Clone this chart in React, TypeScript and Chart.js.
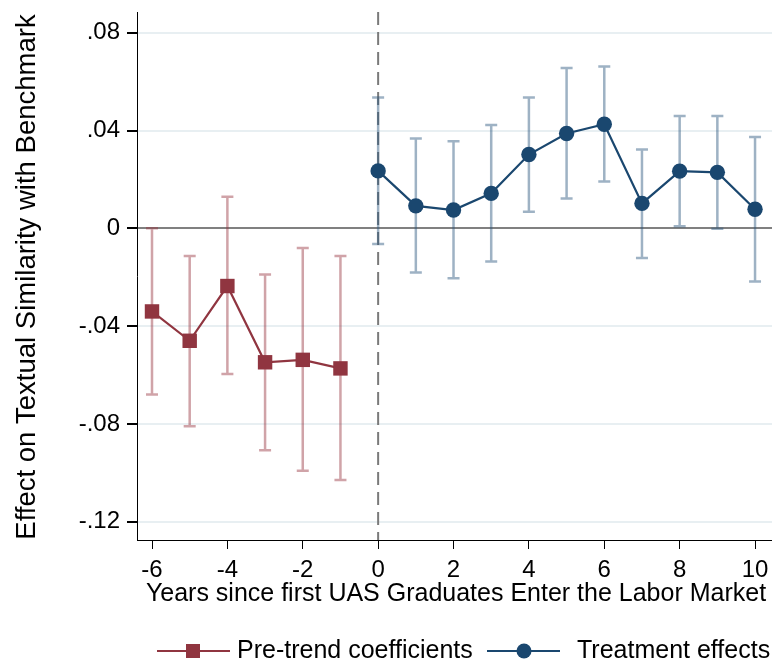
import React, { useEffect, useRef } from "react";
import { Chart, registerables } from "chart.js";

Chart.register(...registerables);

const preYears = [-6, -5, -4, -3, -2, -1];
const preCoef = [-0.034, -0.046, -0.0236, -0.0548, -0.0538, -0.0573];
const preLo = [-0.068, -0.081, -0.0596, -0.0908, -0.0992, -0.103];
const preHi = [0.0, -0.0113, 0.0129, -0.0189, -0.008, -0.0113];

const postYears = [0, 1, 2, 3, 4, 5, 6, 7, 8, 9, 10];
const postCoef = [0.0235, 0.0092, 0.0075, 0.0143, 0.0302, 0.0388, 0.0426, 0.0102, 0.0234, 0.0229, 0.0078];
const postLo = [-0.0064, -0.0181, -0.0204, -0.0136, 0.0068, 0.0122, 0.0192, -0.0121, 0.0009, -0.0002, -0.0218];
const postHi = [0.0535, 0.0367, 0.0356, 0.0423, 0.0535, 0.0656, 0.0662, 0.0322, 0.046, 0.046, 0.0374];

const xTicks = [-6, -4, -2, 0, 2, 4, 6, 8, 10];
const yTicks = [-0.12, -0.08, -0.04, 0, 0.04, 0.08];
const yTickLabels = ["-.12", "-.08", "-.04", "0", ".04", ".08"];

const xTitle = "Years since first UAS Graduates Enter the Labor Market";
const yTitle = "Effect on Textual Similarity with Benchmark";
const preLabel = "Pre-trend coefficients";
const postLabel = "Treatment effects";

const FONT = "'Liberation Sans', Arial, sans-serif";
const PRE_COLOR = "#903540";
const PRE_CI = "rgba(150,50,62,0.45)";
const POST_COLOR = "#1a476f";
const POST_CI = "rgba(40,85,125,0.45)";

export default function App() {
  const ref = useRef<HTMLCanvasElement | null>(null);

  useEffect(() => {
    const canvas = ref.current;
    if (!canvas) return;

    const zeroPad = (s: any) => {
      s.paddingTop = 0;
      s.paddingBottom = 0;
      s.paddingLeft = 0;
      s.paddingRight = 0;
    };

    const bgPlugin = {
      id: "custom",
      beforeDatasetsDraw(chart: any) {
        const { ctx, chartArea, scales } = chart;
        const xs = scales.x;
        const ys = scales.y;
        ctx.save();
        const x0 = xs.getPixelForValue(0);
        ctx.strokeStyle = "#7a7a7a";
        ctx.lineWidth = 2;
        ctx.setLineDash([13, 7]);
        ctx.beginPath();
        ctx.moveTo(x0, chartArea.top);
        ctx.lineTo(x0, chartArea.bottom);
        ctx.stroke();
        ctx.setLineDash([]);
        const drawCI = (xsArr: number[], lo: number[], hi: number[], color: string) => {
          ctx.strokeStyle = color;
          ctx.lineWidth = 2.5;
          for (let i = 0; i < xsArr.length; i++) {
            const px = xs.getPixelForValue(xsArr[i]);
            const pl = ys.getPixelForValue(lo[i]);
            const ph = ys.getPixelForValue(hi[i]);
            ctx.beginPath();
            ctx.moveTo(px, pl);
            ctx.lineTo(px, ph);
            ctx.moveTo(px - 6, pl);
            ctx.lineTo(px + 6, pl);
            ctx.moveTo(px - 6, ph);
            ctx.lineTo(px + 6, ph);
            ctx.stroke();
          }
        };
        drawCI(preYears, preLo, preHi, PRE_CI);
        drawCI(postYears, postLo, postHi, POST_CI);
        ctx.restore();
      },
      afterDraw(chart: any) {
        const { ctx } = chart;
        ctx.save();
        ctx.fillStyle = "#000";
        ctx.font = `25px ${FONT}`;
        ctx.textAlign = "center";
        ctx.textBaseline = "middle";
        ctx.fillText(xTitle, 456, 594);
        ctx.restore();

        ctx.save();
        ctx.fillStyle = "#000";
        ctx.translate(35, 277);
        ctx.rotate(-Math.PI / 2);
        ctx.font = `27.5px ${FONT}`;
        ctx.textAlign = "center";
        ctx.textBaseline = "alphabetic";
        ctx.fillText(yTitle, 0, 0);
        ctx.restore();

        ctx.save();
        const ly = 651;
        ctx.lineWidth = 2;
        ctx.strokeStyle = PRE_COLOR;
        ctx.beginPath();
        ctx.moveTo(157, ly);
        ctx.lineTo(230, ly);
        ctx.stroke();
        ctx.fillStyle = PRE_COLOR;
        ctx.fillRect(193 - 7, ly - 7, 14, 14);
        ctx.strokeStyle = POST_COLOR;
        ctx.beginPath();
        ctx.moveTo(487, ly);
        ctx.lineTo(560, ly);
        ctx.stroke();
        ctx.fillStyle = POST_COLOR;
        ctx.beginPath();
        ctx.arc(524, ly, 7.5, 0, Math.PI * 2);
        ctx.fill();
        ctx.fillStyle = "#000";
        ctx.font = `25px ${FONT}`;
        ctx.textAlign = "left";
        ctx.textBaseline = "middle";
        ctx.fillText(preLabel, 237, ly);
        ctx.fillText(postLabel, 577, ly);
        ctx.restore();
      },
    };

    const chart = new Chart(canvas, {
      type: "line",
      data: {
        datasets: [
          {
            label: preLabel,
            data: preYears.map((x, i) => ({ x, y: preCoef[i] })),
            borderColor: PRE_COLOR,
            backgroundColor: PRE_COLOR,
            borderWidth: 2.2,
            pointStyle: "rect",
            pointRadius: 10.2,
            pointBorderWidth: 0,
            tension: 0,
            clip: false,
          },
          {
            label: postLabel,
            data: postYears.map((x, i) => ({ x, y: postCoef[i] })),
            borderColor: POST_COLOR,
            backgroundColor: POST_COLOR,
            borderWidth: 2.2,
            pointStyle: "circle",
            pointRadius: 7.7,
            pointBorderWidth: 0,
            tension: 0,
            clip: false,
          },
        ],
      },
      options: {
        responsive: false,
        animation: false,
        devicePixelRatio: 1,
        layout: { autoPadding: false, padding: { top: 12, left: 0, right: 0, bottom: 0 } },
        plugins: { legend: { display: false }, tooltip: { enabled: false } },
        scales: {
          x: {
            type: "linear",
            min: -6.398,
            max: 10.45,
            afterFit: (s: any) => {
              s.height = 128;
              zeroPad(s);
            },
            afterBuildTicks: (s: any) => {
              s.ticks = xTicks.map((v) => ({ value: v }));
            },
            grid: {
              display: true,
              drawOnChartArea: false,
              drawTicks: true,
              tickLength: 9,
              tickColor: "#000",
            },
            border: { display: true, color: "#000", width: 1 },
            ticks: {
              color: "#000",
              font: { family: FONT, size: 24 },
              padding: 7,
              maxRotation: 0,
              autoSkip: false,
              callback: (v: any) => String(v),
            },
          },
          y: {
            type: "linear",
            min: -0.1275,
            max: 0.0885,
            afterFit: (s: any) => {
              s.width = 137;
              zeroPad(s);
            },
            afterBuildTicks: (s: any) => {
              s.ticks = yTicks.map((v) => ({ value: v }));
            },
            grid: {
              display: true,
              drawOnChartArea: true,
              drawTicks: true,
              tickLength: 10,
              tickColor: "#000",
              color: (c: any) => (c.tick && Math.abs(c.tick.value) < 1e-9 ? "#808080" : "#e8eff2"),
              lineWidth: 2,
            },
            border: { display: true, color: "#000", width: 1 },
            ticks: {
              color: "#000",
              font: { family: FONT, size: 24 },
              padding: 7,
              autoSkip: false,
              callback: (v: any) => {
                const idx = yTicks.findIndex((t) => Math.abs(t - v) < 1e-9);
                return idx >= 0 ? yTickLabels[idx] : "";
              },
            },
          },
        },
      },
      plugins: [bgPlugin],
    } as any);

    return () => chart.destroy();
  }, []);

  return (
    <div style={{ position: "fixed", left: 0, top: 0, width: 772, height: 668, background: "#fff" }}>
      <canvas ref={ref} width={772} height={668} style={{ display: "block" }} />
    </div>
  );
}
